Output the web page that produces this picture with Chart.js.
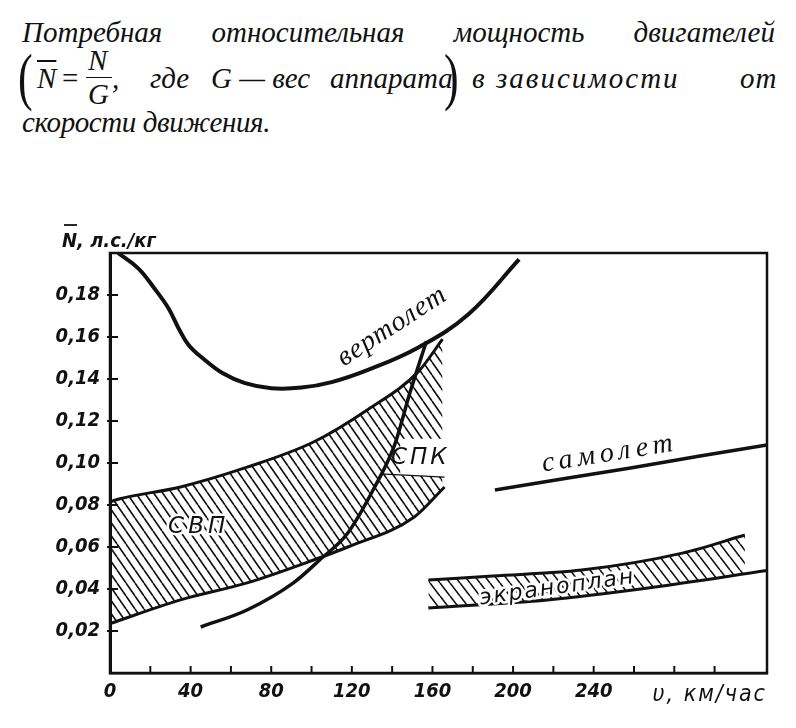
<!DOCTYPE html>
<html>
<head>
<meta charset="utf-8">
<script src="https://cdn.jsdelivr.net/npm/chart.js@4.4.1/dist/chart.umd.min.js"></script>
<style>
  body { margin: 0; width: 796px; height: 728px; background: #fff; position: relative; overflow: hidden; color: #111; }
  .cap { position: absolute; font-family: "Liberation Serif", serif; font-style: italic; font-size: 29px; line-height: 29px; white-space: nowrap; }
  .row { position: absolute; left: 22px; width: 753px; display: flex; justify-content: space-between; }
  .paren { position: absolute; font-family: "Liberation Serif", serif; font-size: 44px; line-height: 44px; transform: scaleY(1.45); }
  #wrap { position: absolute; left: 0; top: 180px; width: 796px; height: 548px; }
</style>
</head>
<body>
<div class="cap row" style="top:18px">
  <span>Потребная</span><span>относительная</span><span>мощность</span><span>двигателей</span>
</div>

<span class="paren" style="left:18px;top:56px">(</span>
<span class="cap" style="left:37px;top:64px;text-decoration:overline">N</span>
<span class="cap" style="left:62px;top:64px;font-style:normal">=</span>
<span class="cap" style="left:88px;top:46px">N</span>
<span style="position:absolute;left:86px;top:77px;width:26px;border-top:1.5px solid #111"></span>
<span class="cap" style="left:88px;top:80px">G</span>
<span class="cap" style="left:112px;top:64px">,</span>
<span class="cap" style="left:150px;top:64px">где</span>
<span class="cap" style="left:211px;top:64px">G — вес</span>
<span class="cap" style="left:330px;top:64px">аппарата</span>
<span class="paren" style="left:444px;top:56px">)</span>
<span class="cap" style="left:472px;top:64px">в</span>
<span class="cap" style="left:496px;top:64px;letter-spacing:2px">зависимости</span>
<span class="cap" style="left:740px;top:64px;letter-spacing:1px">от</span>
<span class="cap" style="left:22px;top:108px;letter-spacing:-0.4px">скорости движения.</span>

<div id="wrap"><canvas id="grafic"></canvas></div>

<script>
// ось скорости, км/час
const xTicks = [0, 20, 40, 60, 80, 100, 120, 140, 160, 180, 200, 220, 240, 260, 280, 300];
const xTickLabels = ['0', '', '40', '', '80', '', '120', '', '160', '', '200', '', '240', '', '', ''];
// ось относительной мощности, л.с./кг
const yTicks = [0, 0.02, 0.04, 0.06, 0.08, 0.10, 0.12, 0.14, 0.16, 0.18, 0.20];
const yTickLabels = ['', '0,02', '0,04', '0,06', '0,08', '0,10', '0,12', '0,14', '0,16', '0,18', ''];

// вертолет
const vertoletV = [4, 14, 22, 29, 34, 39, 46, 56, 67, 80, 95, 110, 128, 153, 178, 203];
const vertoletN = [0.200, 0.1927, 0.1832, 0.1737, 0.1642, 0.1562, 0.1499, 0.1427, 0.1380, 0.1356, 0.1359, 0.1385, 0.1443, 0.155, 0.171, 0.197];

// самолет
const samoletV = [191, 225, 259, 292, 326];
const samoletN = [0.0871, 0.0925, 0.0977, 0.1032, 0.1086];

// СВП — верхняя и нижняя граница
const svpTopV = [0, 5, 35, 68, 101, 128, 153, 165];
const svpTopN = [0.0815, 0.0830, 0.0886, 0.0980, 0.1100, 0.1255, 0.1435, 0.1590];
const svpBotV = [0, 35, 68, 101, 118, 151, 166];
const svpBotN = [0.0235, 0.0348, 0.0429, 0.0538, 0.0600, 0.0743, 0.0886];

// СПК
const spkV = [45, 68, 91, 104, 118, 131, 141, 149, 157];
const spkN = [0.0219, 0.030, 0.0429, 0.0538, 0.0667, 0.088, 0.108, 0.134, 0.158];

// поле под надписью СПК
const spkBoxBotV = [134, 166];
const spkBoxBotN = [0.0948, 0.0933];
const spkBoxTopV = [144, 166];
const spkBoxTopN = [0.1115, 0.1115];

// экраноплан
const ekrTopV = [158, 190, 234, 284, 315];
const ekrTopN = [0.0443, 0.0462, 0.0490, 0.0571, 0.0657];
const ekrBotV = [158, 217, 267, 326];
const ekrBotN = [0.0310, 0.0348, 0.0405, 0.0488];

const culoare = '#111';
const pts = (v, n) => v.map((x, i) => ({ x, y: n[i] }));

function hasura(w, h, lw) {
  const c = document.createElement('canvas');
  c.width = w; c.height = h;
  const g = c.getContext('2d');
  g.strokeStyle = culoare;
  g.lineWidth = lw;
  g.beginPath();
  for (const dx of [-w, 0, w]) {
    g.moveTo(dx, 0);
    g.lineTo(dx + w, h);
  }
  g.stroke();
  return g.createPattern(c, 'repeat');
}

const hasuraSvp = hasura(9, 13, 1.6);
const hasuraEkr = hasura(10, 13, 1.6);

const linie = (data, extra) => Object.assign({
  data,
  borderColor: culoare,
  borderWidth: 3,
  pointRadius: 0,
  fill: false,
  cubicInterpolationMode: 'monotone',
  order: 2
}, extra);

// подписи, рамка и внутренние риски
const adnotari = {
  id: 'adnotari',
  afterDatasetsDraw(chart) {
    const { ctx, chartArea: a, scales: { x, y } } = chart;
    ctx.save();
    ctx.strokeStyle = culoare;
    ctx.lineWidth = 2.5;
    ctx.strokeRect(a.left, a.top, a.right - a.left, a.bottom - a.top);

    ctx.lineWidth = 2;
    xTicks.forEach((v) => {
      if (v === 0) return;
      const px = x.getPixelForValue(v);
      ctx.beginPath(); ctx.moveTo(px, a.bottom); ctx.lineTo(px, a.bottom - 7); ctx.stroke();
    });
    yTicks.forEach((n) => {
      if (n === 0 || n >= 0.2) return;
      const py = y.getPixelForValue(n);
      ctx.beginPath(); ctx.moveTo(a.left - 3, py); ctx.lineTo(a.left + 8, py); ctx.stroke();
    });

    const text = (s, v, n, ang, font, spacing, halo) => {
      ctx.save();
      ctx.translate(x.getPixelForValue(v), y.getPixelForValue(n));
      ctx.rotate(ang * Math.PI / 180);
      ctx.font = font;
      ctx.letterSpacing = spacing + 'px';
      ctx.textAlign = 'center';
      ctx.textBaseline = 'middle';
      if (halo) {
        ctx.strokeStyle = '#fff';
        ctx.lineWidth = 5;
        ctx.lineJoin = 'round';
        ctx.strokeText(s, 0, 0);
      }
      ctx.fillStyle = culoare;
      ctx.fillText(s, 0, 0);
      ctx.restore();
    };
    text('вертолет', 140, 0.165, -33, 'italic 28px "Liberation Serif"', 1, false);
    text('самолет', 248, 0.1045, -9, 'italic 28px "Liberation Serif"', 5, false);
    text('экраноплан', 222, 0.0405, -8, 'oblique 22px "DejaVu Sans"', 2, true);
    text('СВП', 44, 0.0695, 0, 'oblique 23px "DejaVu Sans"', 4, true);
    text('СПК', 154, 0.1025, 0, 'oblique 23px "DejaVu Sans"', 3, false);

    // подписи осей
    ctx.fillStyle = culoare;
    ctx.font = 'italic bold 20px "DejaVu Sans Condensed", "DejaVu Sans"';
    ctx.textAlign = 'left';
    ctx.textBaseline = 'alphabetic';
    ctx.fillText('N, л.с./кг', a.left - 48, a.top - 6);
    ctx.lineWidth = 1.8;
    ctx.beginPath(); ctx.moveTo(a.left - 46, a.top - 28); ctx.lineTo(a.left - 33, a.top - 28); ctx.stroke();
    ctx.font = 'italic 23px "DejaVu Sans Condensed", "DejaVu Sans"';
    ctx.letterSpacing = '2px';
    ctx.textAlign = 'right';
    ctx.fillText('υ, км/час', a.right, a.bottom + 28);
    ctx.restore();
  }
};

new Chart(document.getElementById('grafic'), {
  type: 'line',
  data: {
    datasets: [
      linie(pts(svpTopV, svpTopN), { fill: '+1', backgroundColor: hasuraSvp, order: 4 }),
      linie(pts(svpBotV, svpBotN), { order: 4 }),
      linie(pts(ekrTopV, ekrTopN), { order: 3 }),
      linie(pts(ekrBotV, ekrBotN), { fill: '-1', backgroundColor: hasuraEkr, order: 3 }),
      linie(pts(spkBoxBotV, spkBoxBotN), { fill: '+1', backgroundColor: '#fff', borderWidth: 1.2, order: 1, cubicInterpolationMode: 'default', tension: 0 }),
      linie(pts(spkBoxTopV, spkBoxTopN), { borderWidth: 0, borderColor: 'rgba(0,0,0,0)', order: 1, cubicInterpolationMode: 'default', tension: 0 }),
      linie(pts(vertoletV, vertoletN), { borderWidth: 4, cubicInterpolationMode: 'default', tension: 0.4 }),
      linie(pts(samoletV, samoletN), { borderWidth: 3.5 }),
      linie(pts(spkV, spkN), { borderWidth: 3.5, order: 0 })
    ]
  },
  options: {
    responsive: true,
    maintainAspectRatio: false,
    animation: false,
    layout: { padding: { top: 73, right: 29, left: 0, bottom: 0 } },
    plugins: { legend: { display: false }, tooltip: { enabled: false } },
    scales: {
      x: {
        type: 'linear',
        min: 0,
        max: 326,
        afterBuildTicks: (s) => { s.ticks = xTicks.map((value) => ({ value })); },
        afterFit: (s) => { s.height = 55; },
        border: { display: true, color: culoare, width: 2.5 },
        grid: { drawOnChartArea: false, drawTicks: false },
        ticks: {
          autoSkip: false,
          maxRotation: 0,
          padding: 7,
          color: culoare,
          font: { family: '"DejaVu Sans Condensed", "DejaVu Sans"', size: 20, style: 'italic', weight: 'bold' },
          callback: (v, i) => xTickLabels[i]
        }
      },
      y: {
        min: 0,
        max: 0.2,
        afterBuildTicks: (s) => { s.ticks = yTicks.map((value) => ({ value })); },
        afterFit: (s) => { s.width = 110; },
        border: { display: true, color: culoare, width: 3 },
        grid: { drawOnChartArea: false, drawTicks: false },
        ticks: {
          autoSkip: false,
          padding: 10,
          color: culoare,
          font: { family: '"DejaVu Sans Condensed", "DejaVu Sans"', size: 20, style: 'italic', weight: 'bold' },
          callback: (v, i) => yTickLabels[i]
        }
      }
    }
  },
  plugins: [adnotari]
});
</script>
</body>
</html>
